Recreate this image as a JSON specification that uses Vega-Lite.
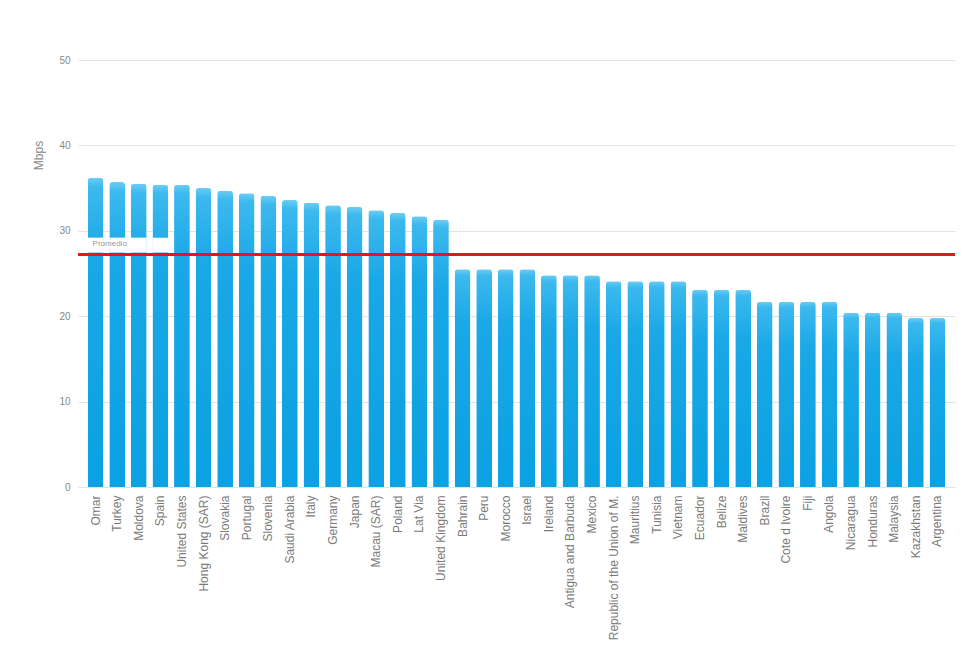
{
  "$schema": "https://vega.github.io/schema/vega-lite/v6.json",
  "autosize": {"type": "none"},
  "padding": {"left": 78, "top": 60, "right": 10, "bottom": 168},
  "width": 877,
  "height": 427,
  "background": "white",
  "config": {"view": {"stroke": null}, "font": "Liberation Sans"},
  "data": {"values": [
    {"country": "Omar", "mbps": 36.2},
    {"country": "Turkey", "mbps": 35.7},
    {"country": "Moldova", "mbps": 35.5},
    {"country": "Spain", "mbps": 35.4},
    {"country": "United States", "mbps": 35.4},
    {"country": "Hong Kong (SAR)", "mbps": 35.0},
    {"country": "Slovakia", "mbps": 34.7},
    {"country": "Portugal", "mbps": 34.4},
    {"country": "Slovenia", "mbps": 34.1},
    {"country": "Saudi Arabia", "mbps": 33.6},
    {"country": "Italy", "mbps": 33.3},
    {"country": "Germany", "mbps": 33.0},
    {"country": "Japan", "mbps": 32.8},
    {"country": "Macau (SAR)", "mbps": 32.4},
    {"country": "Poland", "mbps": 32.1},
    {"country": "Lat Via", "mbps": 31.7},
    {"country": "United Kingdom", "mbps": 31.3},
    {"country": "Bahrain", "mbps": 25.5},
    {"country": "Peru", "mbps": 25.5},
    {"country": "Morocco", "mbps": 25.5},
    {"country": "Israel", "mbps": 25.5},
    {"country": "Ireland", "mbps": 24.8},
    {"country": "Antigua and Barbuda", "mbps": 24.8},
    {"country": "Mexico", "mbps": 24.8},
    {"country": "Republic of the Union of M.", "mbps": 24.1},
    {"country": "Mauritius", "mbps": 24.1},
    {"country": "Tunisia", "mbps": 24.1},
    {"country": "Vietnam", "mbps": 24.1},
    {"country": "Ecuador", "mbps": 23.1},
    {"country": "Belize", "mbps": 23.1},
    {"country": "Maldives", "mbps": 23.1},
    {"country": "Brazil", "mbps": 21.7},
    {"country": "Cote d Ivoire", "mbps": 21.7},
    {"country": "Fiji", "mbps": 21.7},
    {"country": "Angola", "mbps": 21.7},
    {"country": "Nicaragua", "mbps": 20.4},
    {"country": "Honduras", "mbps": 20.4},
    {"country": "Malaysia", "mbps": 20.4},
    {"country": "Kazakhstan", "mbps": 19.8},
    {"country": "Argentina", "mbps": 19.8}
  ]},
  "encoding": {
    "x": {"field": "country", "type": "nominal", "sort": null,
      "scale": {"paddingInner": 0.27, "paddingOuter": 0.45},
      "axis": {"title": null, "labelAngle": -90, "labelColor": "#7a7a7a", "labelFontSize": 12, "labelPadding": 8, "ticks": false, "domain": false}}
  },
  "layer": [
    {
      "mark": {"type": "bar", "cornerRadiusTopLeft": 3, "cornerRadiusTopRight": 3,
        "color": {"gradient": "linear", "x1": 0, "y1": 0, "x2": 0, "y2": 1,
          "stops": [
            {"offset": 0, "color": "#6ccdf3"},
            {"offset": 0.03, "color": "#3cb9ee"},
            {"offset": 0.25, "color": "#1aa8e6"},
            {"offset": 1, "color": "#0ba1e2"}
          ]}},
      "encoding": {
        "y": {"field": "mbps", "type": "quantitative",
          "scale": {"domain": [0, 50]},
          "axis": {"title": "Mbps", "titleColor": "#888888", "titleFontSize": 12, "titleFontWeight": "normal",
            "titleX": -40, "titleY": 95, "titleAngle": -90, "titleAlign": "center", "titleBaseline": "middle",
            "values": [0, 10, 20, 30, 40, 50], "labelColor": "#888888", "labelFontSize": 10, "labelPadding": 8,
            "ticks": false, "domain": false, "gridColor": "#e3e3e3"}}
      }
    },
    {
      "transform": [{"filter": {"field": "country", "oneOf": ["Omar", "Turkey", "Moldova", "Spain"]}}],
      "mark": {"type": "bar", "color": "white"},
      "encoding": {"y": {"datum": 27.45}, "y2": {"datum": 29.2}}
    },
    {
      "transform": [{"filter": {"field": "country", "equal": "Omar"}}],
      "mark": {"type": "text", "text": "Promedio", "align": "left", "baseline": "middle", "dx": -3, "fontSize": 8, "color": "#999999"},
      "encoding": {"y": {"datum": 28.4}}
    },
    {
      "mark": {"type": "rule", "color": "#e8161b", "strokeWidth": 2.5},
      "encoding": {"y": {"datum": 27.2}, "x": null}
    }
  ]
}
